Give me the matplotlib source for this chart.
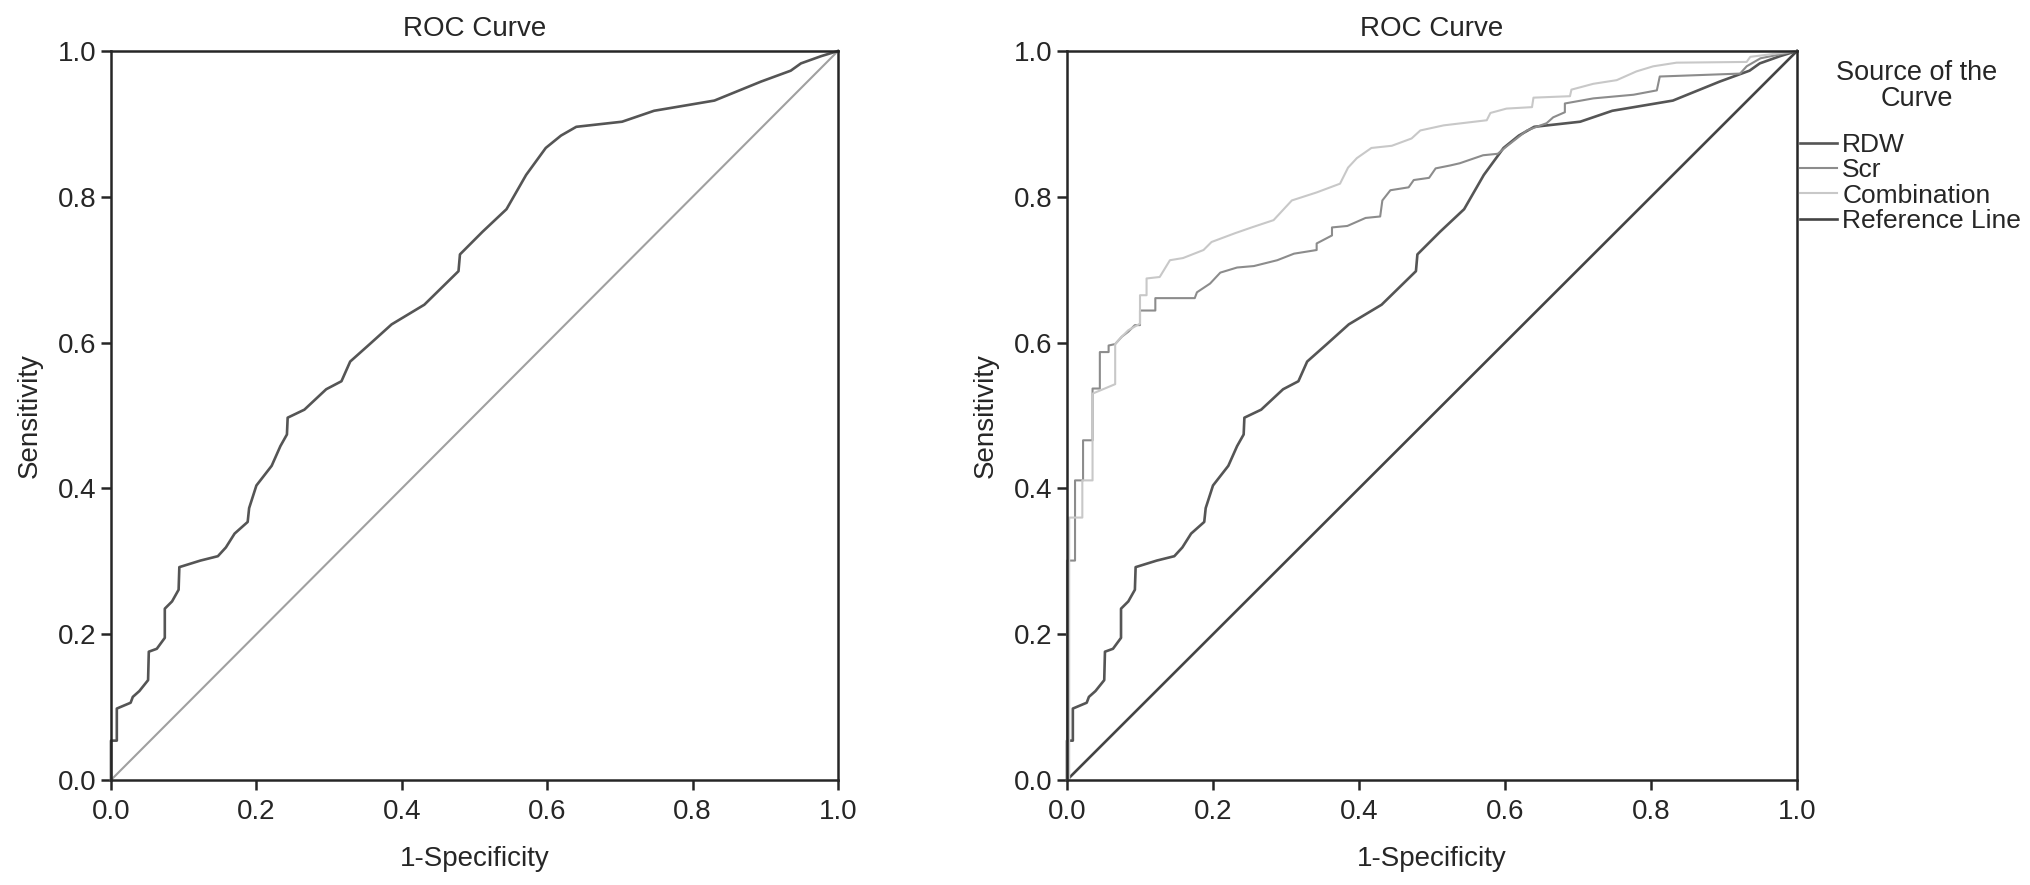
import matplotlib.pyplot as plt
import numpy as np

plt.rcParams['font.family'] = ['Liberation Sans', 'DejaVu Sans']

# ROC curve points (1-specificity, sensitivity)
rdw_fpr = [0, 0, 0.008, 0.008, 0.027, 0.030, 0.039, 0.051, 0.052, 0.063, 0.074, 0.074,
           0.084, 0.093, 0.094, 0.123, 0.147, 0.158, 0.170, 0.188, 0.190, 0.200, 0.221,
           0.233, 0.242, 0.243, 0.266, 0.296, 0.317, 0.329, 0.356, 0.386, 0.431, 0.478,
           0.480, 0.511, 0.544, 0.571, 0.598, 0.619, 0.640, 0.703, 0.747, 0.830, 0.894,
           0.935, 0.949, 0.977, 1.0]
rdw_tpr = [0, 0.054, 0.054, 0.098, 0.106, 0.114, 0.122, 0.137, 0.176, 0.180, 0.195, 0.235,
           0.245, 0.261, 0.292, 0.301, 0.307, 0.319, 0.338, 0.354, 0.373, 0.404, 0.431,
           0.458, 0.474, 0.497, 0.508, 0.536, 0.547, 0.574, 0.598, 0.625, 0.652, 0.698,
           0.721, 0.752, 0.783, 0.830, 0.867, 0.884, 0.896, 0.903, 0.918, 0.932, 0.958,
           0.973, 0.983, 0.993, 1.0]

scr_fpr = [0, 0, 0.011, 0.011, 0.022, 0.022, 0.035, 0.035, 0.045, 0.045, 0.057, 0.057,
           0.066, 0.075, 0.084, 0.093, 0.100, 0.100, 0.121, 0.121, 0.175, 0.178, 0.196,
           0.210, 0.233, 0.256, 0.288, 0.311, 0.342, 0.342, 0.363, 0.363, 0.384, 0.409,
           0.429, 0.432, 0.443, 0.468, 0.475, 0.496, 0.505, 0.525, 0.538, 0.570, 0.590,
           0.602, 0.616, 0.630, 0.657, 0.666, 0.682, 0.682, 0.721, 0.776, 0.808, 0.812,
           0.922, 0.931, 0.950, 1.0]
scr_tpr = [0, 0.301, 0.301, 0.411, 0.411, 0.466, 0.466, 0.537, 0.537, 0.587, 0.587, 0.596,
           0.598, 0.608, 0.615, 0.624, 0.624, 0.644, 0.644, 0.661, 0.661, 0.669, 0.681,
           0.696, 0.703, 0.705, 0.713, 0.722, 0.727, 0.736, 0.747, 0.758, 0.760, 0.771,
           0.773, 0.795, 0.809, 0.813, 0.823, 0.826, 0.839, 0.843, 0.846, 0.857, 0.859,
           0.869, 0.880, 0.891, 0.901, 0.909, 0.916, 0.928, 0.935, 0.940, 0.946, 0.965,
           0.969, 0.979, 0.990, 1.0]

comb_fpr = [0, 0.003, 0.003, 0.021, 0.021, 0.035, 0.035, 0.035, 0.066, 0.066, 0.075,
            0.084, 0.100, 0.100, 0.109, 0.109, 0.127, 0.141, 0.159, 0.187, 0.198, 0.230,
            0.253, 0.283, 0.308, 0.342, 0.374, 0.385, 0.397, 0.417, 0.445, 0.472, 0.484,
            0.516, 0.575, 0.580, 0.602, 0.637, 0.639, 0.689, 0.691, 0.721, 0.753, 0.780,
            0.803, 0.835, 0.931, 0.936, 1.0]
comb_tpr = [0, 0, 0.360, 0.360, 0.411, 0.411, 0.466, 0.530, 0.543, 0.598, 0.608,
            0.617, 0.626, 0.665, 0.665, 0.688, 0.690, 0.713, 0.716, 0.727, 0.738, 0.750,
            0.758, 0.768, 0.795, 0.806, 0.818, 0.840, 0.853, 0.867, 0.870, 0.880, 0.891,
            0.898, 0.905, 0.915, 0.921, 0.923, 0.936, 0.938, 0.947, 0.955, 0.960, 0.972,
            0.979, 0.984, 0.985, 0.992, 1.0]

ref = [0, 1]
ticks = [0.0, 0.2, 0.4, 0.6, 0.8, 1.0]

W, H = 2031, 885
fig = plt.figure(figsize=(W / 100, H / 100), dpi=100)
ax1 = fig.add_axes([111 / W, 105 / H, 727 / W, 729 / H])
ax2 = fig.add_axes([1067 / W, 105 / H, 730 / W, 729 / H])

FS = 20
INK = '#262626'

def style(ax):
    ax.set_xlim(0, 1)
    ax.set_ylim(0, 1)
    ax.set_xticks(ticks)
    ax.set_yticks(ticks)
    ax.set_xticklabels([f'{t:.1f}' for t in ticks])
    ax.set_yticklabels([f'{t:.1f}' for t in ticks])
    for s in ax.spines.values():
        s.set_linewidth(1.8)
        s.set_color(INK)
    ax.tick_params(direction='out', length=7.5, width=1.8, color=INK,
                   labelsize=FS, labelcolor=INK)
    ax.tick_params(axis='x', pad=6.5)
    ax.tick_params(axis='y', pad=3)
    ax.set_title('ROC Curve', fontsize=FS, pad=11, color=INK)
    ax.set_xlabel('1-Specificity', fontsize=FS, labelpad=15, color=INK)
    ax.set_ylabel('Sensitivity', fontsize=FS, labelpad=10.5, color=INK)

# left panel
ax1.plot(ref, ref, color='#a0a0a0', lw=1.5, clip_on=False)
ax1.plot(rdw_fpr, rdw_tpr, color='#555555', lw=1.9, clip_on=False)
style(ax1)

# right panel
l1, = ax2.plot(rdw_fpr, rdw_tpr, color='#555555', lw=1.9, label='RDW', clip_on=False)
l2, = ax2.plot(scr_fpr, scr_tpr, color='#8c8c8c', lw=1.5, label='Scr', clip_on=False)
l3, = ax2.plot(comb_fpr, comb_tpr, color='#c8c8c8', lw=1.5, label='Combination', clip_on=False)
l4, = ax2.plot(ref, ref, color='#444444', lw=1.9, label='Reference Line', clip_on=False)
l4.set_zorder(1)
style(ax2)

fig.text(1917 / W, 1 - 86 / H, 'Source of the\nCurve', ha='center', va='center',
         multialignment='center', fontsize=19.5, linespacing=1.05, color=INK)

leg = fig.legend(handles=[l1, l2, l3, l4], loc='upper left',
                 bbox_to_anchor=(1800 / W, 1 - 133 / H), frameon=False,
                 fontsize=19, handlelength=1.4, handletextpad=0.2,
                 labelspacing=0.05, borderpad=0.0, borderaxespad=0.0)
for t in leg.get_texts():
    t.set_color(INK)

fig.savefig('out.png', dpi=100)
